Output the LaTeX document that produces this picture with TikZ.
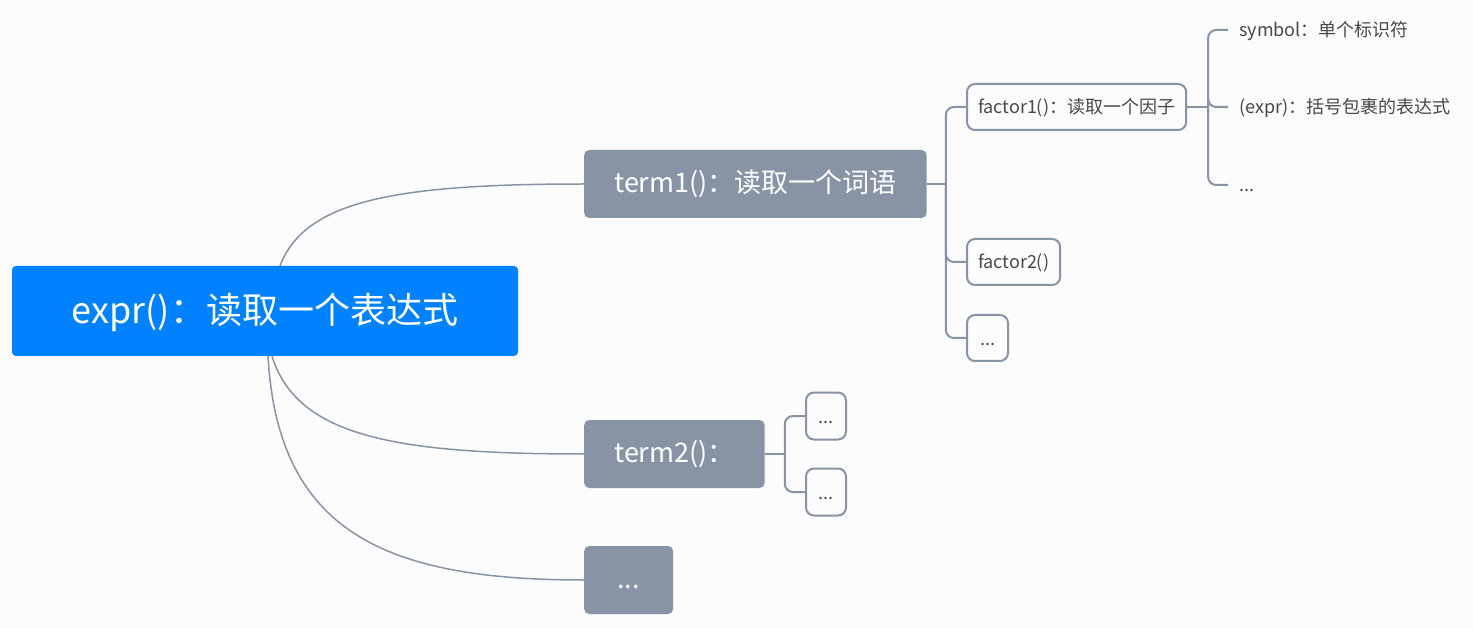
\documentclass[tikz,border=0pt]{standalone}
\usepackage{fontspec}
\usepackage{tikz}
\usetikzlibrary{positioning}
\setmainfont{Noto Sans CJK SC}
\definecolor{mapBlue}{RGB}{0, 130, 255}
\definecolor{mapGray}{RGB}{136, 148, 166}
\definecolor{mapText}{RGB}{72, 72, 72}
\definecolor{mapBack}{RGB}{252, 252, 253}

\tikzset{
    rootBox/.style={fill=mapBlue, text=white, rounded corners=4pt,
        minimum width=506pt, minimum height=90pt,
        font=\fontsize{36pt}{40pt}\selectfont, text height=25pt, text depth=0pt},
    termBox/.style={fill=mapGray, text=white, rounded corners=5pt, anchor=west,
        minimum height=68pt, inner xsep=30pt,
        font=\fontsize{27pt}{30pt}\selectfont, text height=17.5pt, text depth=0pt},
    factorBox/.style={draw=mapGray, line width=2pt, fill=mapBack, text=mapText,
        rounded corners=8pt, anchor=west, minimum height=46pt, inner xsep=11pt,
        font=\fontsize{18pt}{20pt}\selectfont, text height=14pt, text depth=0pt},
    leafText/.style={text=mapText, anchor=west, inner xsep=11pt,
        font=\fontsize{18pt}{20pt}\selectfont, text height=14pt, text depth=0pt},
    stem/.style={draw=mapGray, line width=1.5pt},
    branch/.style={draw=mapGray, line width=2pt, rounded corners=8pt}
}

\begin{document}
\begin{tikzpicture}[x=1pt, y=-1pt]
    \fill[mapBack] (0,0) rectangle (1473,628);
    \useasboundingbox (0,0) rectangle (1473,628);

    % Main topic and terms
    \node[rootBox] (expr) at (265,311) {expr()：读取一个表达式};
    \node[termBox] (term1) at (584,184) {term1()：读取一个词语};
    \node[termBox] (term2) at (584,454) {term2()：};
    \node[termBox, minimum width=89pt] (termDots) at (584,580) {...};

    \draw[stem] ([xshift=15pt]expr.north) .. controls +(25,-65) and +(-190,0) .. (term1.west);
    \draw[stem] ([xshift=7pt]expr.south) .. controls +(25,80) and +(-190,0) .. (term2.west);
    \draw[stem] ([xshift=3pt]expr.south) .. controls +(10,175) and +(-200,0) .. (termDots.west);

    % Factors of term1
    \node[factorBox] (factor1) at (966,107) {factor1()：读取一个因子};
    \node[factorBox] (factor2) at (966,262) {factor2()};
    \node[factorBox, minimum width=41pt] (factorDots) at (966,338) {...};

    \coordinate[right=19pt of term1] (j1);
    \draw[branch] (term1) -- (j1);
    \draw[branch] (j1) |- (factor1.west);
    \draw[branch] (j1) |- (factor2.west);
    \draw[branch] (j1) |- (factorDots.west);

    % Kinds of factor1
    \node[leafText] (symbol) at (1228,30) {symbol：单个标识符};
    \node[leafText] (paren) at (1228,107) {(expr)：括号包裹的表达式};
    \node[leafText] (leafDots) at (1228,185) {...};

    \coordinate[right=21pt of factor1] (j2);
    \draw[branch] (factor1) -- (j2);
    \draw[branch] (j2) |- (symbol.west);
    \draw[branch] (j2) |- (paren.west);
    \draw[branch] (j2) |- (leafDots.west);

    % Children of term2
    \node[factorBox, minimum width=40pt, minimum height=47pt] (t2a) at (805,416) {...};
    \node[factorBox, minimum width=40pt, minimum height=47pt] (t2b) at (805,492) {...};

    \coordinate[right=20pt of term2] (j3);
    \draw[branch] (term2) -- (j3);
    \draw[branch] (j3) |- (t2a.west);
    \draw[branch] (j3) |- (t2b.west);
\end{tikzpicture}
\end{document}
